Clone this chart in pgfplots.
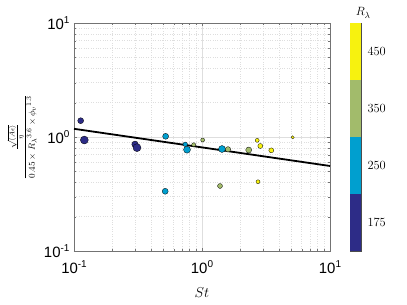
\documentclass[border=0pt]{standalone}
\usepackage{pgfplots}
\pgfplotsset{compat=1.18}
\usepackage{fontspec}
\setsansfont{Liberation Sans}
\definecolor{cA}{RGB}{45,44,135}
\definecolor{cB}{RGB}{0,159,207}
\definecolor{cC}{RGB}{162,187,107}
\definecolor{cD}{RGB}{247,242,15}
\newcommand{\tl}[1]{\sffamily\fontsize{15}{15}\selectfont 10\raisebox{0.75ex}{\fontsize{10}{10}\selectfont #1}}
\pgfplotsset{
 grp/.style={scatter, only marks, mark=*,
   scatter/use mapped color={draw=black, fill=#1},
   mark options={line width=0.3pt},
   visualization depends on={\thisrow{s}\as\ms},
   scatter/@pre marker code/.append style={/tikz/mark size=\ms}}
}
\begin{document}
\begin{tikzpicture}
\useasboundingbox (-74bp,-54bp) rectangle (333bp,251bp);
\begin{axis}[
  at={(0,0)}, anchor=south west,
  scale only axis, width=256bp, height=228bp,
  xmode=log, ymode=log,
  xmin=0.1, xmax=10, ymin=0.1, ymax=10,
  xtick={0.1,1,10}, xticklabels={\tl{-1},\tl{0},\tl{1}},
  ytick={0.1,1,10}, yticklabels={\tl{-1},\tl{0},\tl{1}},
  xticklabel style={yshift=-6bp},
  yticklabel style={xshift=-1bp},
  grid=both,
  major grid style={black!13, line width=0.4pt},
  minor grid style={black!13, dotted, line width=0.4pt},
  axis line style={black!55},
  tick style={black!55},
  major tick length=3bp, minor tick length=1.8bp,
  xlabel={$St$},
  xlabel style={at={(axis description cs:0.5,-0.184)}, anchor=center, font=\fontsize{15}{15}\selectfont},
  ylabel={$\displaystyle\frac{\frac{\sqrt{\langle A\epsilon\rangle}}{\eta}}{0.45\times {R_\lambda}^{3.6}\times {\phi_v}^{1.3}}$},
  ylabel style={at={(axis description cs:-0.203,0.5)}, anchor=center, rotate=0, font=\fontsize{9.5}{10}\selectfont},
]
\addplot[grp=cA] table {
x y s
0.1128 1.39 3.0
0.1204 0.941 4.0
0.2998 0.863 3.3
0.3105 0.806 4.0
};
\addplot[grp=cB] table {
x y s
0.520 1.014 3.0
0.516 0.334 3.0
0.740 0.863 2.3
0.764 0.774 3.5
1.433 0.785 3.5
};
\addplot[grp=cC] table {
x y s
0.861 0.856 2.0
1.012 0.941 2.0
1.596 0.780 2.7
1.383 0.372 2.5
2.316 0.769 3.0
};
\addplot[grp=cD] table {
x y s
2.70 0.935 2.0
2.855 0.834 2.5
2.739 0.405 2.0
3.478 0.764 2.5
5.11 0.994 1.6
};
\addplot[black, line width=1.8bp] coordinates {(0.1,1.18) (10,0.557)};
\end{axis}
\begin{axis}[
  at={(276bp,0)}, anchor=south west,
  scale only axis, width=11bp, height=228bp,
  xmin=0, xmax=1, ymin=0, ymax=4,
  xtick=\empty,
  ytick={0.5,1.5,2.5,3.5}, yticklabels={175,250,350,450},
  yticklabel pos=right,
  major tick length=0pt,
  yticklabel style={font=\fontsize{12.5}{12.5}\selectfont, xshift=3bp},
  axis line style={black!70, line width=0.4pt},
  title={$R_\lambda$},
  title style={at={(axis description cs:1.2,1)}, anchor=south, font=\fontsize{13}{13}\selectfont, yshift=-4.5bp},
]
\addplot[draw=none, fill=cA] coordinates {(0,0) (1,0) (1,1) (0,1)} -- cycle;
\addplot[draw=none, fill=cB] coordinates {(0,1) (1,1) (1,2) (0,2)} -- cycle;
\addplot[draw=none, fill=cC] coordinates {(0,2) (1,2) (1,3) (0,3)} -- cycle;
\addplot[draw=none, fill=cD] coordinates {(0,3) (1,3) (1,4) (0,4)} -- cycle;
\end{axis}
\end{tikzpicture}
\end{document}
